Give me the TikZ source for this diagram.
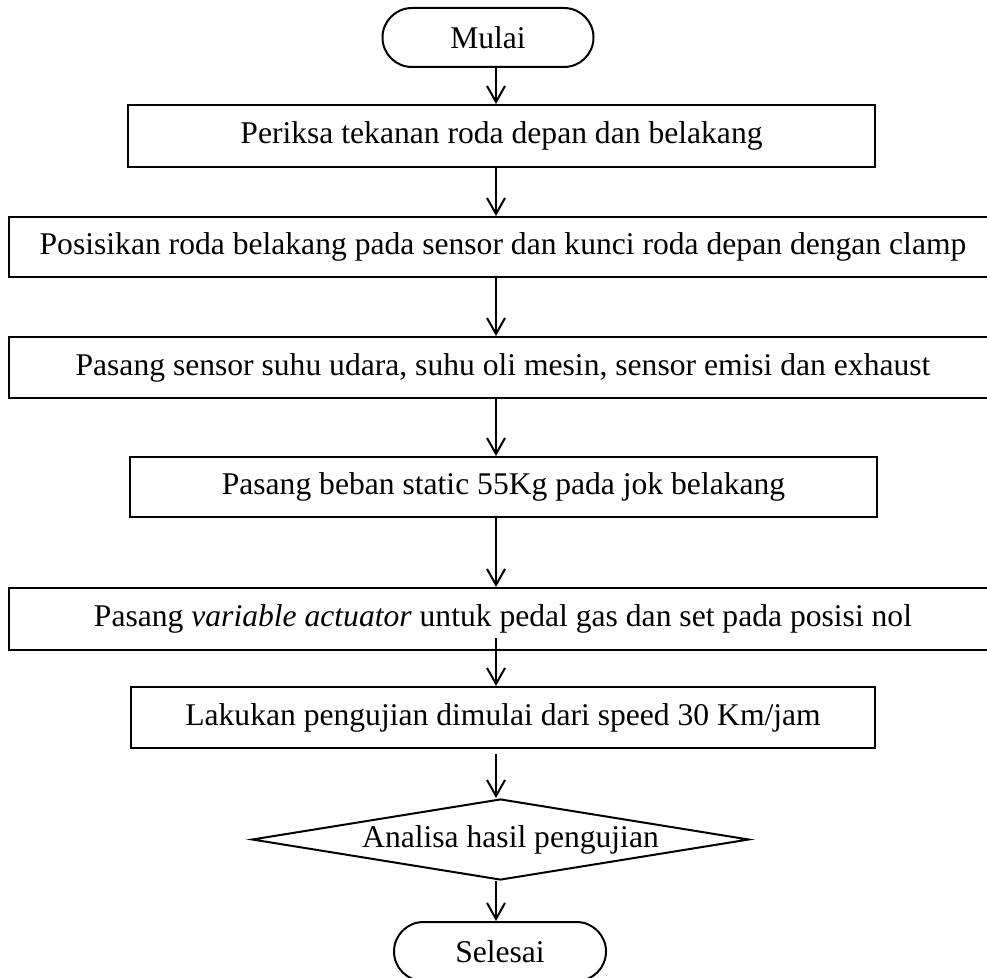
\documentclass[tikz,border=0pt]{standalone}
\usepackage{fontspec}
\setmainfont{Liberation Serif}
\usetikzlibrary{arrows.meta,shapes.geometric,shapes.misc}

\begin{document}
\begin{tikzpicture}[x=0.75pt,y=0.75pt,yscale=-1,xscale=1,
  font=\fontsize{23.7}{28}\selectfont,
  kotak/.style={draw,line width=1.5pt,inner sep=0pt,minimum height=45.75pt},
  terminal/.style={draw,line width=1.5pt,rounded rectangle,inner sep=0pt,minimum width=158.25pt,minimum height=44.25pt},
  panah/.style={line width=1.5pt,-{Straight Barb[length=12pt,width=13.5pt,line width=1.5pt]}}]

\useasboundingbox (0,0) rectangle (987,977);

\coordinate (sumbu) at (496,0);

\draw (488,37.5) node [terminal] (mulai) {Mulai};

\draw (501.5,136) node [kotak,minimum width=560.25pt,minimum height=46.5pt] (periksa) {Periksa tekanan roda depan dan belakang};

\draw (503,247) node [kotak,minimum width=741pt,minimum height=45pt] (posisi) {Posisikan roda belakang pada sensor dan kunci roda depan dengan clamp};

\draw (503,367.5) node [kotak,minimum width=741pt] (sensor) {Pasang sensor suhu udara, suhu oli mesin, sensor emisi dan exhaust};

\draw (503.5,487) node [kotak,minimum width=560.25pt,minimum height=45pt] (beban) {Pasang beban static 55Kg pada jok belakang};

\draw (503,619) node [kotak,minimum width=741pt,minimum height=46.5pt] (aktuator) {Pasang \textit{variable actuator} untuk pedal gas dan set pada posisi nol};

\draw (503,717.5) node [kotak,minimum width=558pt] (uji) {Lakukan pengujian dimulai dari speed 30 Km/jam};

\draw (500.5,839.5) node [diamond,draw,line width=1.5pt,inner sep=0pt,minimum width=372.75pt,minimum height=60.75pt,
  label={[xshift=7.5pt]center:Analisa hasil pengujian}] (analisa) {};

\draw (500,951.5) node [terminal,minimum width=159pt] (selesai) {Selesai};

% panah antar langkah
\coordinate (aktuator-a) at ([yshift=-9.75pt]aktuator.south);
\coordinate (uji-a) at ([yshift=3.75pt]uji.south);

\draw [panah] (mulai.south -| sumbu) -- (periksa.north -| sumbu);
\draw [panah] (periksa.south -| sumbu) -- (posisi.north -| sumbu);
\draw [panah] (posisi.south -| sumbu) -- (sensor.north -| sumbu);
\draw [panah] (sensor.south -| sumbu) -- (beban.north -| sumbu);
\draw [panah] (beban.south -| sumbu) -- (aktuator.north -| sumbu);
\draw [panah] (aktuator-a -| sumbu) -- (uji.north -| sumbu);
\draw [panah] (uji-a -| sumbu) -- (analisa.north -| sumbu);
\draw [panah] (analisa.south -| sumbu) -- (selesai.north -| sumbu);

\end{tikzpicture}
\end{document}
